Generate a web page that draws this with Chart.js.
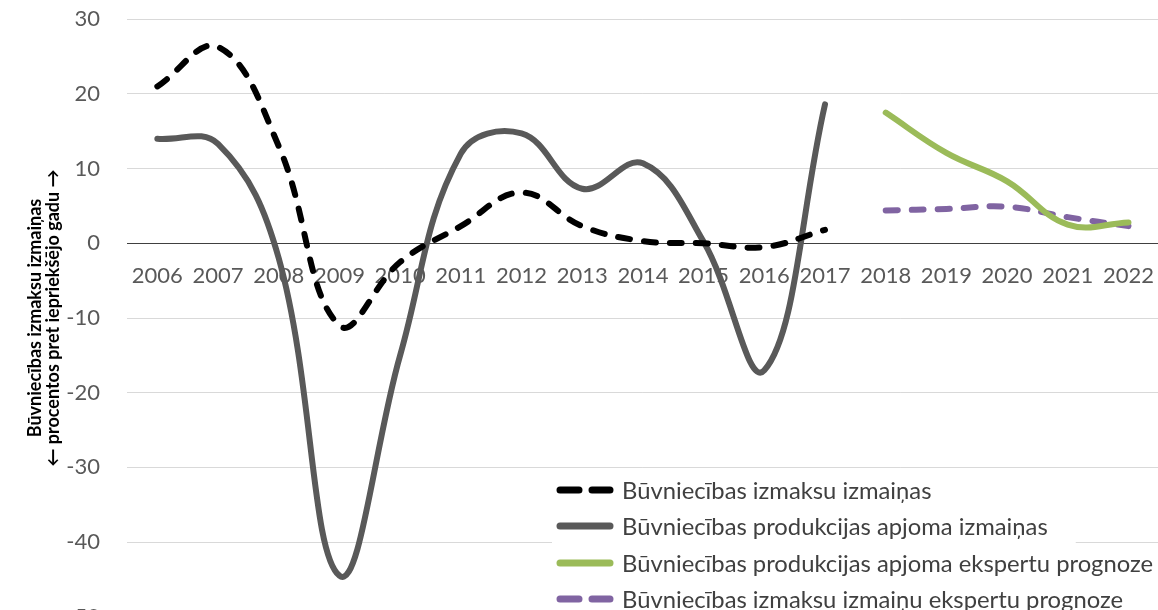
<!DOCTYPE html>
<html><head><meta charset="utf-8">
<script src="https://cdn.jsdelivr.net/npm/chart.js@4/dist/chart.umd.min.js"></script>
<style>
html,body{margin:0;padding:0;background:#fff;overflow:hidden;}
#wrap{position:relative;width:1173px;height:678px;margin-top:-21px;}
</style></head><body>
<div id="wrap"><canvas id="c"></canvas></div>
<script>
const years = ['2006','2007','2008','2009','2010','2011','2012','2013','2014','2015','2016','2017','2018','2019','2020','2021','2022'];
const costChange = [21, 26.3, 13, -11, -2.5, 2.3, 6.8, 2.3, 0.3, 0, -0.5, 1.8, null, null, null, null, null];
const volumeChange = [14, 13.3, -2, -44.5, -15, 12, 14.7, 7.3, 10.7, 0.2, -17, 18.6, null, null, null, null, null];
const volumeForecast = [null, null, null, null, null, null, null, null, null, null, null, null, 17.5, 12.1, 8.3, 2.5, 2.8];
const costForecast = [null, null, null, null, null, null, null, null, null, null, null, null, 4.4, 4.6, 4.9, 3.5, 2.3];
const seriesNames = [
  'Būvniecības izmaksu izmaiņas',
  'Būvniecības produkcijas apjoma izmaiņas',
  'Būvniecības produkcijas apjoma ekspertu prognoze',
  'Būvniecības izmaksu izmaiņu ekspertu prognoze'
];
const yTitle = ['Būvniecības izmaksu izmaiņas', '← procentos pret iepriekšējo gadu →'];
const yMin = -50, yMax = 30, yStep = 10;

const FONT = 'Lato, "Open Sans", sans-serif';

const legendPlugin = {
  id: 'insideLegend',
  afterDatasetsDraw(chart) {
    const ctx = chart.ctx;
    const x0 = 557, x1 = 613, tx = 622;
    const off = 21;
    const rows = [490 + off, 526 + off, 563 + off, 599 + off];
    ctx.save();
    ctx.font = '23.8px ' + FONT;
    chart.data.datasets.forEach((ds, i) => {
      const y = rows[i];
      const w = ctx.measureText(ds.label).width;
      ctx.fillStyle = '#ffffff';
      ctx.fillRect(x0 - 5, y - 17, (tx + w + 28) - (x0 - 5), 34);
    });
    chart.data.datasets.forEach((ds, i) => {
      const y = rows[i];
      ctx.beginPath();
      ctx.lineCap = 'round';
      ctx.lineWidth = 7;
      ctx.strokeStyle = ds.borderColor;
      if (ds.borderDash && ds.borderDash.length) {
        ctx.moveTo(x0 + 3, y); ctx.lineTo(x0 + 22, y);
        ctx.moveTo(x0 + 35, y); ctx.lineTo(x1 - 3, y);
      } else {
        ctx.moveTo(x0 + 3, y); ctx.lineTo(x1 - 3, y);
      }
      ctx.stroke();
      ctx.fillStyle = '#404040';
      ctx.textBaseline = 'middle';
      ctx.textAlign = 'left';
      ctx.fillText(ds.label, tx, y + 1);
    });
    ctx.restore();
  }
};

new Chart(document.getElementById('c'), {
  type: 'line',
  data: {
    labels: years,
    datasets: [
      { label: seriesNames[0], data: costChange, borderColor: '#000000', borderWidth: 6, borderDash: [12, 14], borderCapStyle: 'round', tension: 0.4, pointRadius: 0, fill: false },
      { label: seriesNames[1], data: volumeChange, borderColor: '#595959', borderWidth: 6, borderCapStyle: 'round', tension: 0.4, pointRadius: 0, fill: false },
      { label: seriesNames[2], data: volumeForecast, borderColor: '#9BBB59', borderWidth: 6, borderCapStyle: 'round', tension: 0.4, pointRadius: 0, fill: false },
      { label: seriesNames[3], data: costForecast, borderColor: '#8064A2', borderWidth: 6, borderDash: [12, 14], borderCapStyle: 'round', tension: 0.4, pointRadius: 0, fill: false }
    ]
  },
  options: {
    responsive: true,
    maintainAspectRatio: false,
    animation: false,
    layout: { padding: { top: 8, left: 0, right: 0, bottom: 10 } },
    plugins: { legend: { display: false }, tooltip: { enabled: false } },
    scales: {
      x: {
        type: 'category',
        offset: true,
        position: { y: 0 },
        grid: { display: false, drawTicks: false },
        border: { display: true, color: '#404040', width: 1 },
        ticks: { font: { family: FONT, size: 22 }, color: '#595959', padding: 19, maxRotation: 0, autoSkip: false }
      },
      y: {
        min: yMin, max: yMax,
        grid: { color: '#d9d9d9', lineWidth: 1, drawTicks: false },
        border: { display: false },
        ticks: { stepSize: yStep, font: { family: FONT, size: 22 }, color: '#595959', padding: 27 },
        title: { display: true, text: yTitle, font: { family: FONT, size: 18, weight: 'bold', lineHeight: 1.0 }, color: '#000000', padding: { top: 26, bottom: 0 } },
        afterFit(scale) { scale.width = 127; }
      }
    }
  },
  plugins: [legendPlugin]
});
</script>
</body></html>
